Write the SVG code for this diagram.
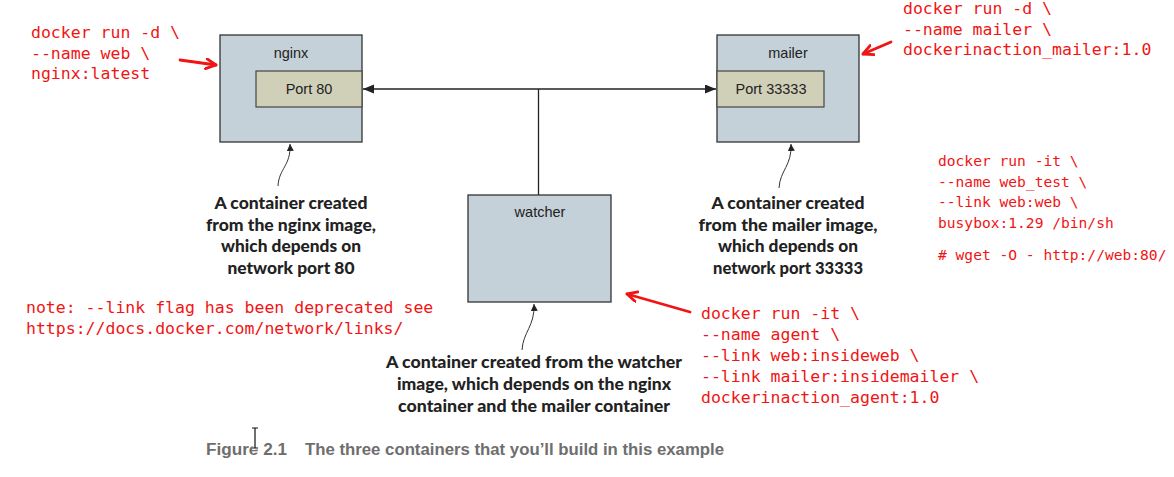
<svg xmlns="http://www.w3.org/2000/svg" width="1174" height="477" viewBox="0 0 1174 477">
<defs>
<style>
.box{fill:#c5d1d8;stroke:#333;stroke-width:1.3}
.port{fill:#d0d0b9;stroke:#444;stroke-width:1.2}
.lbl{font-family:"Liberation Sans",Arial,sans-serif;font-size:14.5px;fill:#222;text-anchor:middle}
.cap{font-family:Lato,"Open Sans",sans-serif;font-weight:900;font-size:17.5px;fill:#222;text-anchor:middle}
.red{font-family:"DejaVu Sans Mono","Liberation Mono",monospace;font-size:16.5px;fill:#f01414}
.reds{font-family:"DejaVu Sans Mono","Liberation Mono",monospace;font-size:14.6px;fill:#f01414}
.fig{font-family:"Liberation Sans",Arial,sans-serif;font-weight:700;font-size:16px;fill:#6e6e6e}
.conn{stroke:#222;stroke-width:1.3;fill:none}
.thin{stroke:#333;stroke-width:1;fill:none}
.rline{stroke:#f01414;stroke-width:2.8;fill:none;stroke-linecap:round}
</style>
<marker id="ah" markerUnits="userSpaceOnUse" markerWidth="12" markerHeight="10" refX="11" refY="4.5" orient="auto-start-reverse">
<path d="M0,0 L11,4.5 L0,9 z" fill="#222"/>
</marker>
<marker id="sah" markerUnits="userSpaceOnUse" markerWidth="8" markerHeight="8" refX="7" refY="3.5" orient="auto">
<path d="M0,0 L7,3.5 L0,7 z" fill="#222"/>
</marker>
<marker id="rah" markerUnits="userSpaceOnUse" markerWidth="14" markerHeight="14" refX="11" refY="6" orient="auto">
<path d="M1,1 L11,6 L1,11" fill="none" stroke="#f01414" stroke-width="2.8" stroke-linecap="round" stroke-linejoin="round"/>
</marker>
</defs>
<rect width="1174" height="477" fill="#fff"/>

<g id="connectors">
<line class="conn" x1="363" y1="89" x2="716" y2="89" marker-start="url(#ah)" marker-end="url(#ah)"/>
<line class="conn" x1="538.5" y1="89" x2="538.5" y2="195"/>
<path class="thin" d="M278,186 C279,168 291,166 290,144" marker-end="url(#sah)"/>
<path class="thin" d="M779,188 C780,170 792,166 791,144" marker-end="url(#sah)"/>
<path class="thin" d="M522,350 C523,332 535,326 534,304" marker-end="url(#sah)"/>
<line class="rline" x1="180" y1="60" x2="216" y2="65" marker-end="url(#rah)"/>
<line class="rline" x1="891" y1="42" x2="863" y2="54" marker-end="url(#rah)"/>
<line class="rline" x1="690" y1="312" x2="627" y2="294" marker-end="url(#rah)"/>
</g>

<g id="nginx">
<rect class="box" x="220" y="35" width="142" height="107"/>
<text class="lbl" x="291" y="58">nginx</text>
<rect class="port" x="256" y="71" width="106" height="36"/>
<text class="lbl" x="309" y="94">Port 80</text>
</g>

<g id="mailer">
<rect class="box" x="717" y="35" width="142" height="107"/>
<text class="lbl" x="788" y="58">mailer</text>
<rect class="port" x="717" y="71" width="107" height="36"/>
<text class="lbl" x="771" y="94">Port 33333</text>
</g>

<g id="watcher">
<rect class="box" x="468" y="195" width="143" height="107"/>
<text class="lbl" x="540" y="217">watcher</text>
</g>

<g id="caption-nginx">
<text class="cap" x="291" y="209" textLength="153" lengthAdjust="spacingAndGlyphs">A container created</text>
<text class="cap" x="291" y="231" textLength="170" lengthAdjust="spacingAndGlyphs">from the nginx image,</text>
<text class="cap" x="291" y="252" textLength="140" lengthAdjust="spacingAndGlyphs">which depends on</text>
<text class="cap" x="291" y="274" textLength="127" lengthAdjust="spacingAndGlyphs">network port 80</text>
</g>

<g id="caption-mailer">
<text class="cap" x="788" y="209" textLength="153" lengthAdjust="spacingAndGlyphs">A container created</text>
<text class="cap" x="788" y="231" textLength="179" lengthAdjust="spacingAndGlyphs">from the mailer image,</text>
<text class="cap" x="788" y="252" textLength="140" lengthAdjust="spacingAndGlyphs">which depends on</text>
<text class="cap" x="788" y="274" textLength="150" lengthAdjust="spacingAndGlyphs">network port 33333</text>
</g>

<g id="caption-watcher">
<text class="cap" x="534" y="368" textLength="296" lengthAdjust="spacingAndGlyphs">A container created from the watcher</text>
<text class="cap" x="534" y="390" textLength="274" lengthAdjust="spacingAndGlyphs">image, which depends on the nginx</text>
<text class="cap" x="534" y="412" textLength="272" lengthAdjust="spacingAndGlyphs">container and the mailer container</text>
</g>

<g id="cmd-web">
<text class="red" x="31" y="38">docker run -d \</text>
<text class="red" x="31" y="59">--name web \</text>
<text class="red" x="31" y="79">nginx:latest</text>
</g>

<g id="cmd-mailer">
<text class="red" x="903" y="14">docker run -d \</text>
<text class="red" x="903" y="35">--name mailer \</text>
<text class="red" x="903" y="55">dockerinaction_mailer:1.0</text>
</g>

<g id="cmd-webtest">
<text class="reds" x="938" y="166">docker run -it \</text>
<text class="reds" x="938" y="187">--name web_test \</text>
<text class="reds" x="938" y="207">--link web:web \</text>
<text class="reds" x="938" y="228">busybox:1.29 /bin/sh</text>
<text class="reds" x="938" y="260"># wget -O - http://web:80/</text>
</g>

<g id="note">
<text class="red" x="26" y="313">note: --link flag has been deprecated see</text>
<text class="red" x="26" y="334">https://docs.docker.com/network/links/</text>
</g>

<g id="cmd-agent">
<text class="red" x="701" y="319">docker run -it \</text>
<text class="red" x="701" y="340">--name agent \</text>
<text class="red" x="701" y="361">--link web:insideweb \</text>
<text class="red" x="701" y="382">--link mailer:insidemailer \</text>
<text class="red" x="701" y="403">dockerinaction_agent:1.0</text>
</g>

<g id="figure-caption">
<text class="fig" x="206" y="455" textLength="81" lengthAdjust="spacingAndGlyphs">Figure 2.1</text>
<text class="fig" x="305" y="455" textLength="419" lengthAdjust="spacingAndGlyphs">The three containers that you’ll build in this example</text>
</g>

<g id="cursor">
<path d="M252,428 H258 M255,428 V448 M252,448 H258" stroke="#fff" stroke-width="3" fill="none"/>
<path d="M252,428 H258 M255,428 V448 M252,448 H258" stroke="#111" stroke-width="1.2" fill="none"/>
</g>
</svg>
